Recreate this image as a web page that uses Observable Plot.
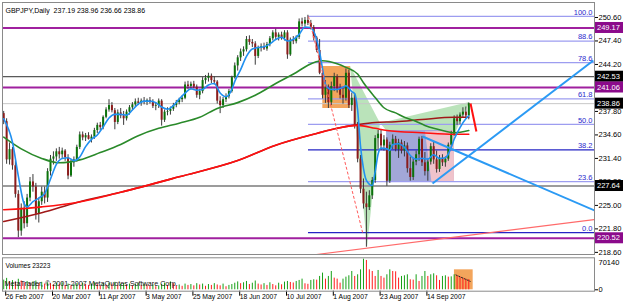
<!DOCTYPE html>
<html><head><meta charset="utf-8">
<script src="https://cdn.jsdelivr.net/npm/d3@7"></script>
<script src="https://cdn.jsdelivr.net/npm/@observablehq/plot@0.6"></script>
<style>
body{margin:0;background:#fff;}
#chart{position:relative;width:625px;height:305px;overflow:hidden;background:#fff;}
#chart svg{position:absolute;left:0;}
</style></head><body><div id="chart"></div>
<script>
// ---------- DATA ----------
const dates = ["26 Feb 2007","20 Mar 2007","11 Apr 2007","3 May 2007","25 May 2007","18 Jun 2007","10 Jul 2007","1 Aug 2007","23 Aug 2007","14 Sep 2007"];
const dateBar = [0,16,32,48,64,80,96,112,128,144];

const open = [237.5,236.4,231.2,232.6,230.4,226.5,221.5,224.6,222.5,226.0,
228.2,227.5,223.8,225.5,226.8,226.0,229.6,231.3,231.6,232.3,
231.9,232.4,231.5,229.0,230.8,231.2,232.9,234.6,234.2,234.5,
234.0,234.3,235.2,235.9,235.6,237.0,238.0,238.6,237.9,236.3,
237.6,237.2,236.8,237.7,238.3,238.7,239.1,238.9,239.2,239.0,
239.3,239.0,238.5,238.6,239.2,236.6,237.7,237.8,238.1,238.6,
239.0,239.4,239.6,241.4,241.2,241.5,241.1,240.0,240.5,242.0,
242.3,242.6,242.0,241.8,239.2,238.6,239.4,239.8,240.5,242.4,
244.0,245.1,245.9,246.2,247.6,247.2,247.0,245.3,246.4,246.6,
246.3,246.9,247.7,248.5,247.9,248.2,247.8,248.5,245.5,247.5,
247.3,247.9,250.0,249.7,250.2,249.8,249.2,247.8,246.1,243.0,
240.0,241.0,239.0,241.2,242.5,240.8,240.0,239.6,243.0,238.6,
239.6,235.8,231.3,227.2,225.2,224.7,226.3,228.4,234.1,234.7,
233.1,233.9,228.3,233.2,234.0,232.6,233.5,232.4,233.1,230.0,
228.8,230.9,231.9,234.0,230.8,229.6,230.9,233.0,231.2,229.9,
231.4,230.8,231.3,233.2,234.7,236.8,236.4,237.3,237.7,237.19];
const high = [237.8,236.8,233.5,232.9,231.0,227.0,225.2,225.5,226.5,228.8,
229.2,228.0,226.0,227.5,227.5,230.0,231.8,232.3,232.7,232.9,
232.8,232.6,231.9,231.2,231.6,233.2,235.0,235.0,234.8,234.9,
234.6,235.5,236.2,236.3,237.2,238.3,239.4,239.0,238.2,238.0,
238.2,237.8,238.0,238.6,239.0,239.5,239.6,239.5,239.7,239.5,
239.7,239.4,239.0,239.5,239.4,238.0,238.3,238.4,238.9,239.3,
239.6,239.9,241.8,241.9,241.8,241.9,241.4,240.8,242.4,242.7,
243.0,242.9,242.5,242.0,239.8,239.7,240.2,240.8,242.6,244.4,
245.4,246.3,246.6,248.0,248.1,247.6,247.3,246.7,247.0,247.1,
247.2,248.0,248.8,249.0,248.5,248.6,248.8,248.8,247.8,248.0,
248.1,250.4,250.5,250.6,250.9,250.2,249.5,248.0,247.6,243.9,
242.0,241.4,241.8,243.0,242.8,241.5,241.0,243.6,243.4,240.3,
240.2,236.3,231.8,228.6,226.8,227.0,228.8,234.5,235.2,235.3,
234.5,234.2,233.6,234.6,234.4,234.0,233.9,233.7,233.5,231.6,
231.4,232.4,234.3,234.4,232.2,231.3,233.4,233.6,232.4,231.8,
231.9,231.6,233.5,235.1,237.2,237.3,237.6,238.3,238.4,238.96];
const low = [236.0,230.6,230.5,229.8,226.0,220.6,220.8,221.8,222.0,225.5,
226.8,223.0,222.6,225.0,225.2,225.4,229.0,230.5,231.0,231.3,
231.4,231.0,228.5,228.8,230.2,230.9,232.6,233.8,233.7,233.9,
233.5,234.0,234.8,235.2,235.3,236.8,237.7,237.6,235.3,236.0,
236.8,235.9,236.5,237.3,237.9,238.4,238.6,238.5,238.7,238.6,
238.8,238.2,237.9,238.2,235.8,236.3,237.2,237.3,237.8,238.3,
238.7,239.0,239.4,240.8,240.7,240.9,239.6,239.4,240.2,241.5,
241.8,241.6,241.4,238.8,237.5,238.2,239.0,239.5,240.3,242.2,
243.3,244.6,245.3,245.9,246.8,246.5,244.1,245.0,245.9,246.1,
246.0,246.6,247.4,247.6,247.4,247.5,247.4,244.9,245.3,246.9,
247.0,247.6,249.3,249.3,249.5,248.9,247.4,245.8,242.8,239.5,
238.9,238.2,238.6,240.5,240.3,239.5,238.8,239.2,238.2,237.8,
235.4,230.8,226.6,224.5,219.3,224.3,225.8,228.0,232.6,232.5,
232.4,227.6,228.0,232.6,232.3,231.4,232.0,231.6,229.4,228.3,
228.4,230.4,231.0,230.3,229.0,228.3,230.5,230.6,229.4,229.5,
230.3,230.2,231.0,232.8,234.4,235.9,236.0,236.9,236.8,236.66];
const close = [236.4,231.2,232.6,230.4,226.5,221.5,224.6,222.5,226.0,228.2,
227.5,223.8,225.5,226.8,226.0,229.6,231.3,231.6,232.3,231.9,
232.4,231.5,229.0,230.8,231.2,232.9,234.6,234.2,234.5,234.0,
234.3,235.2,235.9,235.6,237.0,238.0,238.6,237.9,236.3,237.6,
237.2,236.8,237.7,238.3,238.7,239.1,238.9,239.2,239.0,239.3,
239.0,238.5,238.6,239.2,236.6,237.7,237.8,238.1,238.6,239.0,
239.4,239.6,241.4,241.2,241.5,241.1,240.0,240.5,242.0,242.3,
242.6,242.0,241.8,239.2,238.6,239.4,239.8,240.5,242.4,244.0,
245.1,245.9,246.2,247.6,247.2,247.0,245.3,246.4,246.6,246.3,
246.9,247.7,248.5,247.9,248.2,247.8,248.5,245.5,247.5,247.3,
247.9,250.0,249.7,250.2,249.8,249.2,247.8,246.1,243.0,240.0,
241.0,239.0,241.2,242.5,240.8,240.0,239.6,243.0,238.6,239.6,
235.8,231.3,227.2,225.2,224.7,226.3,228.4,234.1,234.7,233.1,
233.9,228.3,233.2,234.0,232.6,233.5,232.4,233.1,230.0,228.8,
230.9,231.9,234.0,230.8,229.6,230.9,233.0,231.2,229.9,231.4,
230.8,231.3,233.2,234.7,236.8,236.4,237.3,237.7,237.19,238.86];

const volume = [22000,26000,18000,21000,17000,24000,20000,16000,19000,15000,18000,20000,14000,17000,13000,16000,
14000,11000,15000,12000,16000,10000,13000,9000,12000,14000,11000,15000,12000,10000,13000,16000,12000,9000,14000,11000,15000,13000,17000,10000,12000,14000,11000,13000,9000,12000,15000,10000,13000,11000,
8000,11000,7000,9000,12000,15000,10000,18000,14000,9000,11000,8000,13000,10000,12000,9000,14000,11000,13000,8000,12000,10000,14000,11000,9000,13000,7000,10000,12000,15000,
18000,14000,16000,19000,12000,15000,20000,13000,11000,14000,10000,16000,12000,9000,15000,
11400,17500,19000,16700,15500,19000,21300,24300,13700,12500,21300,22800,22000,30400,38000,24300,30400,41700,26600,24300,15200,24300,28800,31900,41700,30400,34200,45500,69800,66800,45500,41700,30400,44000,30400,26600,34200,45500,41700,40900,26600,30400,31900,34200,22800,22000,34200,19000,30400,41700,30400,34200,36400,31900,21300,30400,31900,28800,29500,34200,31900,28800,26600,24300,23223];

// fast MA (blue)
const maFastBar = [0,3,5,7,8,10,12,14,16,18,20,22,24,26,28,30,32,34,36,38,40,42,44,46,48,50,52,54,56,58,60,62,64,66,68,70,72,74,76,78,79,81,83,85,87,89,91,93,95,97,99,101,103,105,107,108,109,110,112,114,116,117,119,120,121,122,123,124,126,127,128,129,131,132,133,135,137,139,141,143,145,147,149,151,152,153,154,156,158,159];
const maFast = [236.8,233.6,229.0,225.2,224.8,225.5,226.0,226.6,228.6,230.6,231.4,231.5,231.1,231.6,233.0,234.0,234.6,235.7,236.9,237.4,237.4,237.3,238.0,238.8,239.2,239.2,239.0,238.4,238.1,238.6,239.5,240.3,240.9,240.7,240.8,241.4,241.6,240.3,239.8,240.8,241.9,243.5,245.3,246.3,246.5,246.6,247.0,247.6,247.9,247.4,247.6,248.3,249.3,249.2,247.6,245.9,243.6,241.5,240.8,240.8,241.1,241.3,240.5,240.2,238.0,233.0,230.0,228.4,227.7,229.6,232.0,232.8,232.7,232.5,233.3,233.4,232.9,231.8,231.3,231.4,231.3,231.9,231.4,231.5,232.0,232.9,234.0,235.6,236.8,237.2];
// medium MA (green)
const maMidBar = [0,6,13,19,26,33,40,46,53,60,67,73,80,86,93,100,104,109,114,117,121,123,127,130,134,137,140,144,147,151,154,159];
const maMid = [234.3,232.7,231.4,230.8,231.2,232.2,233.3,234.5,235.5,236.2,237.0,238.2,239.0,240.0,241.6,243.1,244.1,244.7,244.3,243.8,242.9,241.7,239.7,238.3,237.6,237.0,236.6,235.9,235.5,235.1,234.9,235.2];
// slow MAs (red / dark red)
const maSlowABar = [0,13,25,40,60,80,93,107,114,121,127,131,143,154,159];
const maSlowA = [224.4,224.8,225.4,226.8,228.9,231.1,233.2,234.8,235.5,235.9,235.5,235.2,234.9,234.7,234.7];
const maSlowBBar = [0,13,25,40,60,80,93,107,114,121,127,134,143,154,159];
const maSlowB = [222.8,224.0,225.4,226.8,228.9,231.1,233.2,234.8,235.5,236.0,236.3,236.4,236.7,237.0,237.0];

// 241.00 is hidden behind the 241.06 price box in the reference
const priceTicks = [250.60,247.40,244.20,237.80,234.60,231.40,228.20,225.00,221.80,218.60];
const levelPrices = [249.17,242.53,241.06,238.86,227.64,220.52];
const fibLabels = ["100.0","88.6","78.6","61.8","50.0","38.2","23.6","0.0"];
const fibPrices = [250.75,247.39,244.45,239.50,236.03,232.55,228.25,221.30];
const fibStartBar = 104.2;
const volMax = 70140;
const volNow = 23223;
const header = "GBPJPY,Daily\u00a0\u00a0237.19 238.96 236.66 238.86";
const caption = "MetaTrader, \u00a9 2001-2007 MetaQuotes Software Corp.";

// drawn objects, as [bar, price] pairs
const trendUp = [[146.6,227.98],[201.6,244.74]];
const trendDown = [[143.2,234.39],[202.0,224.31]];
const trendLow = [[106.9,218.31],[202.0,223.08]];
const dashLeg = [[104.2,250.74],[122.7,221.31]];
const lastLeg = [[159.6,238.88],[161.6,235.07]];
const boxBars = [109.1,118.6], boxPrices = [238.20,243.92];
const patXAB = [[118.6,243.92],[124.4,219.27],[128.8,236.16]];
const patBCD = [[128.8,236.16],[146.6,227.98],[159.3,239.02]];
const rangeBars = [130.9,154.1], rangePrices = [228.12,235.21];
const rangeOverlap = [[144.2,235.0],[154.1,235.21],[154.1,228.12],[146.4,228.12]];
const volBoxBars = [154.1,160.5], volBoxTop = 45500;
const volLine = [[154.5,34150],[159.6,18900]];

// ---------- CHART ----------
const FONT = "'Liberation Sans', Arial, sans-serif";
const xDomain = [-0.41, 201.98];
const bars = open.map((o, i) => ({i, o, h: high[i], l: low[i], c: close[i]}));
const vols = volume.map((v, i) => ({i, v, up: i === 0 || v >= volume[i - 1]}));
const series = (bx, vals) => bx.map((b, k) => ({i: b, v: vals[k]}));
const seg = (p) => [{x1: p[0][0], y1: p[0][1], x2: p[1][0], y2: p[1][1]}];
const levelStroke = ["#a0209f","#303030","#a0209f","#c8c8c8","#9c9c9c","#a0209f"];
const levelWidth = [2,1,2,1,2,2];
const boxFill = ["#8b0a8b","#000","#8b0a8b","#000","#000","#8b0a8b"];
const darkFib = new Set(["38.2","0.0"]);

function poly(points, fill, opacity) {
  return (index, scales) => d3.create("svg:path")
    .attr("d", d3.line()(points.map(([a, b]) => [scales.x(a), scales.y(b)])) + "Z")
    .attr("fill", fill).attr("fill-opacity", opacity).node();
}
function priceBoxes(index, scales, values, dims) {
  const g = d3.create("svg:g");
  const x0 = dims.width - dims.marginRight + 1;
  levelPrices.forEach((p, k) => {
    const yy = scales.y(p);
    g.append("rect").attr("x", x0).attr("y", yy - 5.5).attr("width", 28).attr("height", 11).attr("fill", boxFill[k]);
    g.append("text").attr("x", x0 + 2).attr("y", yy).attr("dy", "0.35em").attr("text-anchor", "start")
      .attr("fill", "white").attr("font-size", 7.5).attr("font-family", FONT).text(p.toFixed(2));
  });
  return g.node();
}

const main = Plot.plot({
  width: 625, height: 256,
  marginLeft: 2, marginRight: 31, marginTop: 2, marginBottom: 2,
  x: {domain: xDomain, axis: null},
  y: {domain: [218.31, 252.64]},
  style: {fontFamily: FONT, fontSize: "7px", background: "white", overflow: "visible"},
  marks: [
    Plot.rect([0], {x1: boxBars[0], x2: boxBars[1], y1: boxPrices[0], y2: boxPrices[1], fill: "#f3a55c"}),
    poly(patXAB, "#a3d9a3", 0.75),
    poly(patBCD, "#a3d9a3", 0.75),
    poly([[rangeBars[0], rangePrices[0]], [rangeBars[1], rangePrices[0]], [rangeBars[1], rangePrices[1]], [rangeBars[0], rangePrices[1]]], "#a2a7d8", 1),
    poly(rangeOverlap, "#efc3cb", 1),
    Plot.ruleY(levelPrices, {y: d => d, stroke: (d, k) => levelStroke[k], strokeWidth: (d, k) => levelWidth[k]}),
    Plot.ruleY(fibPrices, {y: d => d, x1: fibStartBar, x2: xDomain[1],
      stroke: (d, k) => darkFib.has(fibLabels[k]) ? "#2424c4" : "#9d9df0", strokeWidth: 1.3}),
    Plot.ruleX(bars, {x: "i", y1: "l", y2: "h", stroke: "#3a3a3a", strokeWidth: 1}),
    Plot.ruleX(bars, {x: "i", y1: "o", y2: "c", stroke: d => d.c >= d.o ? "#0b730b" : "#8c1c1c", strokeWidth: 2}),
    Plot.line(series(maSlowBBar, maSlowB), {x: "i", y: "v", stroke: "#a01818", strokeWidth: 1.6, curve: "monotone-x"}),
    Plot.line(series(maSlowABar, maSlowA), {x: "i", y: "v", stroke: "#ff1010", strokeWidth: 1.6, curve: "monotone-x"}),
    Plot.line(series(maMidBar, maMid), {x: "i", y: "v", stroke: "#2a8a2a", strokeWidth: 1.6, curve: "monotone-x"}),
    Plot.line(series(maFastBar, maFast), {x: "i", y: "v", stroke: "#2090f0", strokeWidth: 1.6, curve: "monotone-x"}),
    Plot.link(seg(trendUp), {x1: "x1", y1: "y1", x2: "x2", y2: "y2", stroke: "#2b9af4", strokeWidth: 2, clip: true}),
    Plot.link(seg(trendDown), {x1: "x1", y1: "y1", x2: "x2", y2: "y2", stroke: "#2b9af4", strokeWidth: 2, clip: true}),
    Plot.link(seg(trendLow), {x1: "x1", y1: "y1", x2: "x2", y2: "y2", stroke: "#ff6a6a", strokeWidth: 1.2, clip: true}),
    Plot.link(seg(dashLeg), {x1: "x1", y1: "y1", x2: "x2", y2: "y2", stroke: "#ff5a5a", strokeWidth: 1, strokeDasharray: "3,2"}),
    Plot.link(seg(lastLeg), {x1: "x1", y1: "y1", x2: "x2", y2: "y2", stroke: "#ff1010", strokeWidth: 2}),
    Plot.text(fibPrices, {y: d => d, text: (d, k) => fibLabels[k], frameAnchor: "right", textAnchor: "end",
      dx: -2, dy: -4, fill: "#2a2acc", fontSize: 7.5}),
    Plot.axisY(priceTicks, {anchor: "right", tickSize: 3, tickPadding: 1, tickFormat: d => d.toFixed(2), fontSize: 7.5}),
    priceBoxes,
    Plot.text([header], {text: d => d, frameAnchor: "top-left", textAnchor: "start", dx: 3, dy: 6, fontSize: 7, fill: "#000"}),
    Plot.frame({stroke: "#8a8a8a"})
  ]
});
main.style.top = "0px";

const volPlot = Plot.plot({
  width: 625, height: 49,
  marginLeft: 2, marginRight: 31, marginTop: 1.3, marginBottom: 14.3,
  x: {domain: xDomain},
  y: {domain: [0, volMax], range: [33.3, 2.5]},
  style: {fontFamily: FONT, fontSize: "7px", background: "white", overflow: "visible"},
  marks: [
    Plot.rect([0], {x1: volBoxBars[0], x2: volBoxBars[1], y1: 0, y2: volBoxTop, fill: "#f3a55c"}),
    Plot.ruleX(vols, {x: "i", y1: 0, y2: "v", stroke: d => d.up ? "#17a017" : "#ff1a1a", strokeWidth: 1}),
    Plot.link(seg(volLine), {x1: "x1", y1: "y1", x2: "x2", y2: "y2", stroke: "#222", strokeWidth: 1, strokeDasharray: "2,1"}),
    Plot.axisY([0], {anchor: "right", tickSize: 3, tickPadding: 1, tickFormat: d => String(d), fontSize: 7.5}),
    Plot.axisY([volMax], {anchor: "right", tickSize: 0, tickPadding: 4, dy: 4, tickFormat: d => String(d), fontSize: 7.5}),
    Plot.axisX(dateBar, {anchor: "bottom", tickSize: 5, tickPadding: -2.5, textAnchor: "start", dx: 2,
      tickFormat: d => dates[dateBar.indexOf(d)], fontSize: 6.8}),
    Plot.text(["Volumes " + volNow], {text: d => d, frameAnchor: "top-left", textAnchor: "start", dx: 3, dy: 6, fontSize: 6.5, fill: "#000"}),
    Plot.text([caption], {text: d => d, frameAnchor: "bottom-left", textAnchor: "start", dx: 2, dy: -5, fontSize: 7.2, fill: "#111"}),
    Plot.frame({stroke: "#8a8a8a"})
  ]
});
volPlot.style.top = "256px";

const root = document.getElementById("chart");
root.appendChild(main);
root.appendChild(volPlot);
</script>
</body></html>
